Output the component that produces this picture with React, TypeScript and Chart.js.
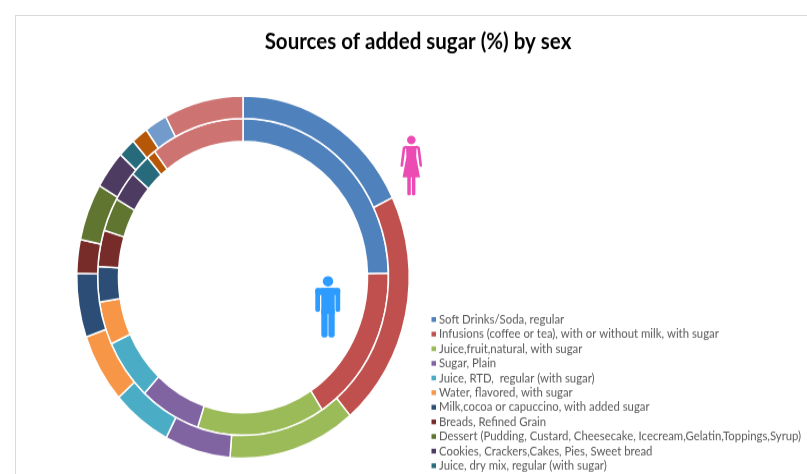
import React, { useEffect, useRef } from "react";
import { Chart, registerables } from "chart.js";

Chart.register(...registerables);

const titleText = "Sources of added sugar (%) by sex";

const legendLabels = [
  "Soft Drinks/Soda, regular",
  "Infusions (coffee or tea), with or without milk, with sugar",
  "Juice,fruit,natural, with sugar",
  "Sugar, Plain",
  "Juice, RTD,  regular (with sugar)",
  "Water, flavored, with sugar",
  "Milk,cocoa or capuccino, with added sugar",
  "Breads, Refined Grain",
  "Dessert (Pudding, Custard, Cheesecake, Icecream,Gelatin,Toppings,Syrup)",
  "Cookies, Crackers,Cakes, Pies, Sweet bread",
  "Juice, dry mix, regular (with sugar)",
];

const sliceColors = [
  "#4F81BD", "#C0504D", "#9BBB59", "#8064A2", "#4BACC6", "#F79646", "#2C4D75",
  "#772C2A", "#5F7530", "#4D3B62", "#276A7C", "#B65708", "#729ACA", "#CD7371",
];

// Inner ring: male shares, outer ring: female shares.
const maleShares = [24.6, 16.2, 14.2, 6.8, 6.2, 4.4, 3.6, 3.7, 3.4, 3.1, 2.3, 1.0, 0, 10.4];
const femaleShares = [17.8, 21.1, 12.4, 6.4, 5.8, 6.2, 5.7, 3.0, 5.1, 3.4, 1.7, 1.6, 2.2, 7.7];

// The canvas is drawn at a reduced height and stretched vertically by the wrapper.
const CANVAS_W = 807;
const CANVAS_H = 435;
const STRETCH = 474 / CANVAS_H;

function drawMan(ctx: CanvasRenderingContext2D) {
  ctx.fillStyle = "#2E9BFF";
  ctx.beginPath();
  ctx.arc(328, 281.3, 5.2, 0, Math.PI * 2);
  ctx.fill();
  const parts: [number, number, number, number, number][] = [
    [315.3, 288, 24.9, 7, 3],
    [315.3, 288, 4.7, 24, 2.2],
    [335.5, 288, 4.7, 24, 2.2],
    [321.3, 288, 13.4, 26, 0],
    [321.3, 308, 6.3, 29.5, 2.6],
    [328.4, 308, 6.3, 29.5, 2.6],
  ];
  for (const [x, y, w, h, r] of parts) {
    ctx.beginPath();
    ctx.roundRect(x, y, w, h, r);
    ctx.fill();
  }
}

function drawWoman(ctx: CanvasRenderingContext2D) {
  ctx.fillStyle = "#EC4BB4";
  ctx.strokeStyle = "#EC4BB4";
  ctx.beginPath();
  ctx.arc(411.3, 140, 4.3, 0, Math.PI * 2);
  ctx.fill();
  // Dress
  ctx.beginPath();
  ctx.moveTo(406, 146);
  ctx.lineTo(416.6, 146);
  ctx.lineTo(416.2, 157);
  ctx.lineTo(420, 177.3);
  ctx.lineTo(402.6, 177.3);
  ctx.lineTo(406.4, 157);
  ctx.closePath();
  ctx.fill();
  // Arms
  ctx.lineCap = "round";
  ctx.lineWidth = 2.6;
  ctx.beginPath();
  ctx.moveTo(406, 147);
  ctx.lineTo(404, 148);
  ctx.lineTo(401.8, 165.5);
  ctx.moveTo(416.6, 147);
  ctx.lineTo(418.6, 148);
  ctx.lineTo(420.8, 165.5);
  ctx.stroke();
  // Legs
  for (const x of [407.3, 411.9]) {
    ctx.beginPath();
    ctx.roundRect(x, 175, 3.5, 20.4, 1.5);
    ctx.fill();
  }
}

const annotations = {
  id: "annotations",
  afterDraw(chart: Chart) {
    const ctx = chart.ctx;
    ctx.save();

    ctx.fillStyle = "#000000";
    ctx.font = "bold 20.5px Lato";
    ctx.textAlign = "center";
    ctx.textBaseline = "middle";
    ctx.fillText(titleText, 418, 38.5);

    ctx.textAlign = "left";
    ctx.font = "11.35px Lato";
    legendLabels.forEach((label, i) => {
      const y = 293.2 + i * 13.42;
      ctx.fillStyle = sliceColors[i];
      ctx.fillRect(431.5, y - 2.2, 4.5, 4.4);
      ctx.fillStyle = "#595959";
      ctx.fillText(label, 439, y);
    });

    ctx.scale(1, 1 / STRETCH);
    drawWoman(ctx);
    drawMan(ctx);
    ctx.restore();
  },
};

export default function App() {
  const canvasRef = useRef<HTMLCanvasElement>(null);

  useEffect(() => {
    const chart = new Chart(canvasRef.current!, {
      type: "doughnut",
      data: {
        datasets: [
          { label: "Female", data: femaleShares, backgroundColor: sliceColors, borderColor: "#FFFFFF", borderWidth: 1.5 },
          { label: "Male", data: maleShares, backgroundColor: sliceColors, borderColor: "#FFFFFF", borderWidth: 1.5 },
        ],
      },
      options: {
        responsive: false,
        animation: false,
        cutout: "74.9%",
        layout: { padding: { left: 76, right: 397, top: 87.2, bottom: 13.8 } },
        plugins: {
          legend: { display: false },
          title: { display: false },
          tooltip: { enabled: false },
        },
      },
      plugins: [annotations],
    });
    return () => chart.destroy();
  }, []);

  return (
    <div style={{ position: "absolute", left: 0, top: 0, width: 807, height: 474, overflow: "hidden", background: "#FFFFFF" }}>
      <canvas
        ref={canvasRef}
        width={CANVAS_W}
        height={CANVAS_H}
        style={{ display: "block", transform: `scaleY(${STRETCH})`, transformOrigin: "0 0" }}
      />
      <div style={{ position: "absolute", left: 15, top: 15, right: 0, bottom: 0, borderTop: "1px solid #D9D9D9", borderLeft: "1px solid #D9D9D9" }} />
    </div>
  );
}
